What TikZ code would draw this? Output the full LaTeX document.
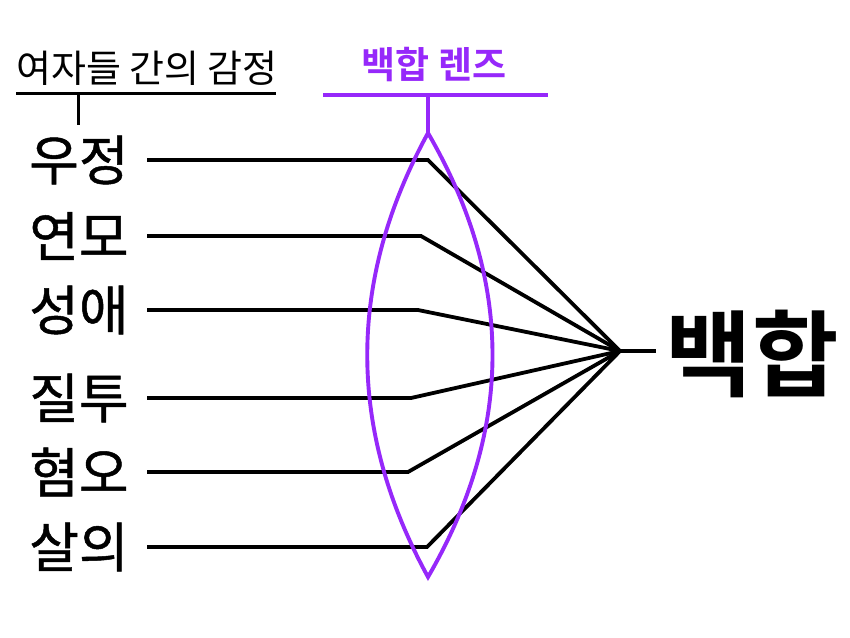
\documentclass[tikz,border=0pt]{standalone}
\usepackage{fontspec}
\newfontfamily\kr{Noto Sans CJK KR}[BoldFont={Noto Sans CJK KR Bold}]
\newfontfamily\krm{Noto Sans CJK KR}[FakeBold=0.9]
\definecolor{lens}{RGB}{150,40,250}
\begin{document}
\begin{tikzpicture}[x=1pt,y=-1pt,
  blk/.style={line width=3.8pt,black},
  prp/.style={line width=3.9pt,lens},
  lbl/.style={inner sep=0pt,font=\krm\fontsize{54}{54}\selectfont},
  ttl/.style={inner sep=0pt,font=\kr\fontsize{38}{38}\selectfont},
  ptl/.style={inner sep=0pt,text=lens,font=\kr\bfseries\fontsize{37}{37}\selectfont},
  big/.style={inner sep=0pt,font=\kr\bfseries\fontsize{94}{94}\selectfont}]
\useasboundingbox[fill=white] (0,0) rectangle (850,637);
% titles
\node[ttl] (t1) at (147,68) {여자들 간의 감정};
\coordinate (u1a) at (16,93); \coordinate (u1b) at (276,93);
\coordinate (v1a) at (78,93); \coordinate (v1b) at (78,125);
\draw[line width=3pt] (u1a) -- (u1b);
\draw[line width=3pt] (v1a) -- (v1b);
\node[ptl] (t2) at (434,65) {백합 렌즈};
\coordinate (u2a) at (323,95); \coordinate (u2b) at (548,95);
\coordinate (lt) at (428,133); \coordinate (lb) at (428,577);
\coordinate (v2a) at (428,95);
\draw[prp,line width=3.4pt] (u2a) -- (u2b);
\draw[prp,line width=3.4pt] (v2a) -- (lt);
% labels
\node[lbl] (a1) at (79,160) {우정};
\node[lbl] (a2) at (79,236) {연모};
\node[lbl] (a3) at (79,310) {성애};
\node[lbl] (a4) at (79,398) {질투};
\node[lbl] (a5) at (79,472) {혐오};
\node[lbl] (a6) at (79,547) {살의};
\coordinate (s1) at (147,160); \coordinate (k1) at (428,160);
\coordinate (s2) at (147,236); \coordinate (k2) at (421,236);
\coordinate (s3) at (147,310); \coordinate (k3) at (418,310);
\coordinate (s4) at (147,398); \coordinate (k4) at (411,398);
\coordinate (s5) at (147,472); \coordinate (k5) at (408,472);
\coordinate (s6) at (147,547); \coordinate (k6) at (427,547);
\coordinate (c) at (620,351);
\coordinate (e) at (656,351);
\foreach \i in {1,...,6} \draw[blk,line join=miter] (s\i) -- (k\i) -- (c);
\draw[blk] (c) -- (e);
\node[big] (b) at (752,354) {백합};
% lens
\draw[prp,line join=miter] (lt) .. controls (347,281) and (347,429) .. (lb)
  .. controls (514,429) and (514,281) .. (lt) -- cycle;
\end{tikzpicture}
\end{document}
